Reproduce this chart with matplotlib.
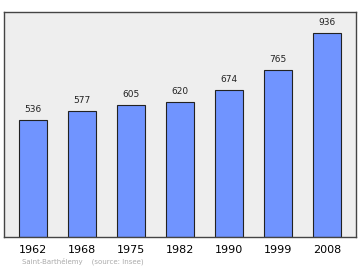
import matplotlib.pyplot as plt

years = ["1962", "1968", "1975", "1982", "1990", "1999", "2008"]
population = [536, 577, 605, 620, 674, 765, 936]

fig = plt.figure(figsize=(3.6, 2.7), dpi=100)
ax = fig.add_axes([0.011, 0.122, 0.978, 0.834])
ax.set_facecolor("#eeeeee")

x = list(range(len(years)))
ax.bar(x, population, width=0.57, color="#7094ff", edgecolor="#222222", linewidth=0.8)

for xi, v in zip(x, population):
    ax.text(xi, v + 28, str(v), ha="center", va="bottom", fontsize=6.5, color="#222222")

ax.set_xlim(-0.59, len(years) - 0.41)
ax.set_ylim(0, 1032)
ax.set_xticks(x)
ax.set_xticklabels(years, fontsize=8)
ax.tick_params(axis="x", length=0, pad=6)
ax.set_yticks([])
for s in ax.spines.values():
    s.set_color("#444444")
    s.set_linewidth(1.0)

fig.text(0.061, 0.025, "Saint-Barthélemy    (source: Insee)", fontsize=5, color="#aaaaaa")

fig.savefig("out.png", dpi=100)
